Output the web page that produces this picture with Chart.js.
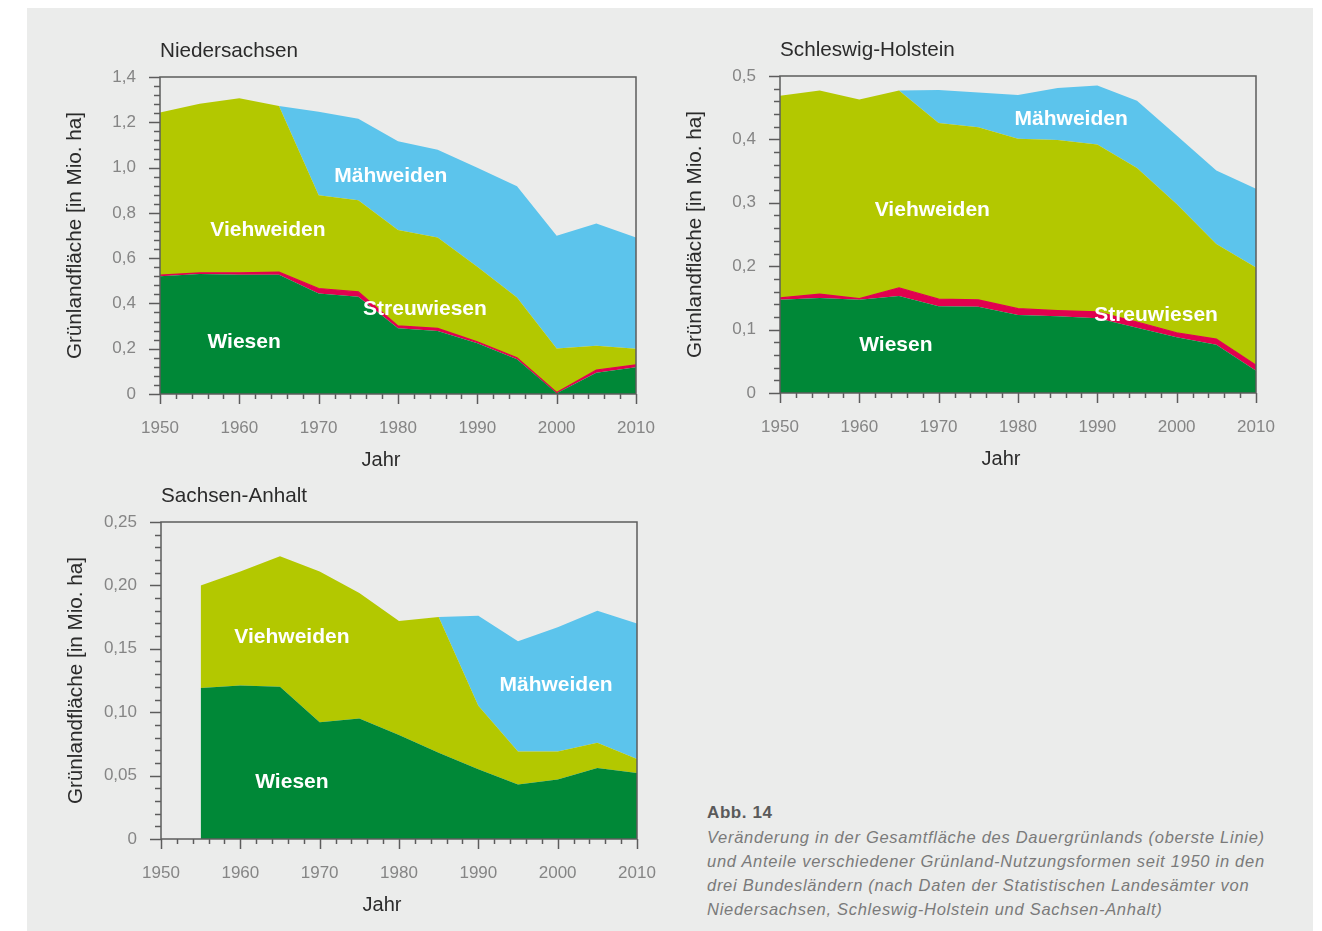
<!DOCTYPE html>
<html lang="de">
<head>
<meta charset="utf-8">
<title>Grünlandfläche</title>
<script src="https://cdn.jsdelivr.net/npm/chart.js@4"></script>
<style>
  html, body { margin: 0; padding: 0; background: #fff; overflow: hidden; }
  body { width: 1322px; height: 931px; position: relative; font-family: 'Liberation Sans', Arial, sans-serif; }
  #panel { position: absolute; left: 27px; top: 8px; width: 1286px; height: 923px; background: #ebeceb; }
  .box { position: absolute; }
  #caption { position: absolute; left: 707px; top: 800px; color: #7a7a7a; font-size: 16.5px; line-height: 24px; }
  #caption b { color: #5a5a5a; font-style: normal; font-size: 17px; letter-spacing: 0.6px; }
  #caption i { white-space: pre; letter-spacing: 0.72px; }
</style>
</head>
<body>
<div id="panel"></div>
<div class="box" id="box1"><canvas id="chartNI"></canvas></div>
<div class="box" id="box2"><canvas id="chartSH"></canvas></div>
<div class="box" id="box3"><canvas id="chartSA"></canvas></div>
<div id="caption"><b>Abb. 14</b><br><i>Veränderung in der Gesamtfläche des Dauergrünlands (oberste Linie)
und Anteile verschiedener Grünland-Nutzungsformen seit 1950 in den
drei Bundesländern (nach Daten der Statistischen Landesämter von
Niedersachsen, Schleswig-Holstein und Sachsen-Anhalt)</i></div>

<script>
// Data (Mio. ha)
const YEARS = [1950, 1955, 1960, 1965, 1970, 1975, 1980, 1985, 1990, 1995, 2000, 2005, 2010];
const YEARS_SA = [1955, 1960, 1965, 1970, 1975, 1980, 1985, 1990, 1995, 2000, 2005, 2010];
const X_TICKS = [1950, 1960, 1970, 1980, 1990, 2000, 2010];

// Niedersachsen
const NI_WIESEN = [0.520, 0.530, 0.527, 0.527, 0.444, 0.429, 0.290, 0.278, 0.224, 0.153, 0.003, 0.094, 0.118];
const NI_STREU  = [0.005, 0.005, 0.008, 0.011, 0.022, 0.022, 0.011, 0.012, 0.007, 0.007, 0.004, 0.012, 0.011];
const NI_VIEH   = [0.718, 0.747, 0.771, 0.734, 0.412, 0.405, 0.423, 0.401, 0.331, 0.266, 0.194, 0.107, 0.071];
const NI_MAEH   = [0, 0, 0, 0, 0.368, 0.360, 0.392, 0.388, 0.437, 0.492, 0.498, 0.540, 0.491];

// Schleswig-Holstein
const SH_WIESEN = [0.147, 0.150, 0.147, 0.153, 0.137, 0.136, 0.123, 0.121, 0.118, 0.103, 0.088, 0.076, 0.035];
const SH_STREU  = [0.003, 0.006, 0.002, 0.013, 0.011, 0.011, 0.010, 0.009, 0.010, 0.009, 0.007, 0.009, 0.009];
const SH_VIEH   = [0.319, 0.321, 0.314, 0.311, 0.278, 0.272, 0.268, 0.269, 0.264, 0.243, 0.203, 0.150, 0.154];
const SH_MAEH   = [0, 0, 0, 0, 0.052, 0.055, 0.069, 0.082, 0.093, 0.106, 0.108, 0.116, 0.124];

// Sachsen-Anhalt (from 1955)
const SA_WIESEN = [0.119, 0.121, 0.120, 0.092, 0.095, 0.082, 0.068, 0.055, 0.043, 0.047, 0.056, 0.052];
const SA_VIEH   = [0.081, 0.090, 0.103, 0.119, 0.099, 0.090, 0.107, 0.050, 0.026, 0.022, 0.020, 0.011];
const SA_MAEH   = [0, 0, 0, 0, 0, 0, 0, 0.071, 0.087, 0.098, 0.104, 0.107];

const COLORS = {
  wiesen: '#008837',
  streu: '#e1004f',
  vieh: '#b3c800',
  maeh: '#5cc4ec'
};

const FONT = "'Liberation Sans', Arial, sans-serif";
Chart.defaults.font.family = FONT;
Chart.defaults.animation = false;

// frame, minor/major ticks, heading, x title and area labels
const decorPlugin = {
  id: 'decor',
  afterDatasetsDraw(chart, args, opts) {
    const { ctx, chartArea: a, scales: { x, y } } = chart;
    ctx.save();
    // area labels
    ctx.fillStyle = '#ffffff';
    ctx.font = 'bold 21px ' + FONT;
    ctx.textAlign = 'center';
    ctx.textBaseline = 'middle';
    (opts.labels || []).forEach(l => {
      ctx.fillText(l.text, x.getPixelForValue(l.year), y.getPixelForValue(l.value));
    });
    // frame
    ctx.strokeStyle = '#5c5c5c';
    ctx.lineWidth = 1.5;
    ctx.strokeRect(a.left, a.top, a.right - a.left, a.bottom - a.top);
    // y ticks
    const nY = Math.round(y.max / opts.yMinor);
    for (let i = 0; i <= nY; i++) {
      const py = Math.round(y.getPixelForValue(i * opts.yMinor)) + 0.5;
      const len = i % 5 === 0 ? 11 : 6;
      ctx.beginPath();
      ctx.moveTo(a.left - len, py);
      ctx.lineTo(a.left, py);
      ctx.stroke();
    }
    // x ticks
    for (let yr = x.min; yr <= x.max; yr += 2) {
      const px = Math.round(x.getPixelForValue(yr)) + 0.5;
      const len = (yr - x.min) % 10 === 0 ? 10 : 5;
      ctx.beginPath();
      ctx.moveTo(px, a.bottom);
      ctx.lineTo(px, a.bottom + len);
      ctx.stroke();
    }
    // heading + x title
    ctx.fillStyle = '#2b2b2b';
    ctx.font = '20.7px ' + FONT;
    ctx.textAlign = 'left';
    ctx.fillText(opts.heading, a.left, a.top - 26);
    ctx.font = '20px ' + FONT;
    ctx.textAlign = 'center';
    ctx.fillText('Jahr', (a.left + a.right) / 2 - 17, a.bottom + 66);
    ctx.restore();
  }
};

function points(years, values) {
  return values.map((v, i) => ({ x: years[i], y: v }));
}

function area(label, years, values, color, first) {
  const isStreu = label === 'Streuwiesen';
  return {
    label: label,
    data: points(years, values),
    backgroundColor: color,
    borderColor: color,
    borderWidth: isStreu ? 1.2 : 0,
    pointRadius: 0,
    tension: 0,
    fill: first ? 'origin' : '-1'
  };
}

function fmt(decimals) {
  return function (value) {
    if (Math.abs(value) < 1e-9) return '0';
    return value.toFixed(decimals).replace('.', ',');
  };
}

// plot rectangle in page pixels -> place canvas around it
function makeChart(boxId, canvasId, rect, datasets, yMax, yStep, yMinor, decimals, heading, labels) {
  const padL = 30, padT = 57, padR = 44, padB = 15, yW = 101, xH = 81;
  const box = document.getElementById(boxId);
  const w = (rect.r - rect.l) + padL + yW + padR;
  const h = (rect.b - rect.t) + padT + xH + padB;
  box.style.left = (rect.l - padL - yW) + 'px';
  box.style.top = (rect.t - padT) + 'px';
  box.style.width = w + 'px';
  box.style.height = h + 'px';

  new Chart(document.getElementById(canvasId), {
    type: 'line',
    data: { datasets: datasets },
    plugins: [decorPlugin],
    options: {
      responsive: true,
      maintainAspectRatio: false,
      layout: { padding: { left: padL, top: padT, right: padR, bottom: padB } },
      scales: {
        x: {
          type: 'linear',
          min: 1950,
          max: 2010,
          afterBuildTicks: s => { s.ticks = X_TICKS.map(v => ({ value: v })); },
          afterFit: s => { s.height = xH; },
          grid: { display: false, drawTicks: false },
          border: { display: false },
          ticks: { color: '#858585', font: { size: 17 }, padding: 24, maxRotation: 0, callback: v => String(v) },
          title: { display: false }
        },
        y: {
          stacked: true,
          min: 0,
          max: yMax,
          afterFit: s => { s.width = yW; },
          grid: { display: false, drawTicks: false },
          border: { display: false },
          ticks: { stepSize: yStep, color: '#858585', font: { size: 17 }, padding: 24, callback: fmt(decimals) },
          title: { display: true, text: 'Grünlandfläche [in Mio. ha]', color: '#2b2b2b', font: { size: 20.7 }, padding: { top: 4, bottom: 4 } }
        }
      },
      plugins: {
        legend: { display: false },
        tooltip: { enabled: false },
        decor: { heading: heading, yMinor: yMinor, labels: labels }
      }
    }
  });
}

makeChart('box1', 'chartNI', { l: 160, t: 77, r: 636, b: 394 }, [
  area('Wiesen', YEARS, NI_WIESEN, COLORS.wiesen, true),
  area('Streuwiesen', YEARS, NI_STREU, COLORS.streu),
  area('Viehweiden', YEARS, NI_VIEH, COLORS.vieh),
  area('Mähweiden', YEARS, NI_MAEH, COLORS.maeh)
], 1.4, 0.2, 0.04, 1, 'Niedersachsen', [
  { text: 'Mähweiden', year: 1979.1, value: 0.963 },
  { text: 'Viehweiden', year: 1963.6, value: 0.724 },
  { text: 'Streuwiesen', year: 1983.4, value: 0.375 },
  { text: 'Wiesen', year: 1960.6, value: 0.23 }
]);

makeChart('box2', 'chartSH', { l: 780, t: 76, r: 1256, b: 393 }, [
  area('Wiesen', YEARS, SH_WIESEN, COLORS.wiesen, true),
  area('Streuwiesen', YEARS, SH_STREU, COLORS.streu),
  area('Viehweiden', YEARS, SH_VIEH, COLORS.vieh),
  area('Mähweiden', YEARS, SH_MAEH, COLORS.maeh)
], 0.5, 0.1, 0.02, 1, 'Schleswig-Holstein', [
  { text: 'Mähweiden', year: 1986.7, value: 0.432 },
  { text: 'Viehweiden', year: 1969.2, value: 0.289 },
  { text: 'Streuwiesen', year: 1997.4, value: 0.123 },
  { text: 'Wiesen', year: 1964.6, value: 0.076 }
]);

makeChart('box3', 'chartSA', { l: 161, t: 522, r: 637, b: 839 }, [
  area('Wiesen', YEARS_SA, SA_WIESEN, COLORS.wiesen, true),
  area('Viehweiden', YEARS_SA, SA_VIEH, COLORS.vieh),
  area('Mähweiden', YEARS_SA, SA_MAEH, COLORS.maeh)
], 0.25, 0.05, 0.01, 2, 'Sachsen-Anhalt', [
  { text: 'Viehweiden', year: 1966.5, value: 0.159 },
  { text: 'Mähweiden', year: 1999.8, value: 0.121 },
  { text: 'Wiesen', year: 1966.5, value: 0.045 }
]);
</script>
</body>
</html>
